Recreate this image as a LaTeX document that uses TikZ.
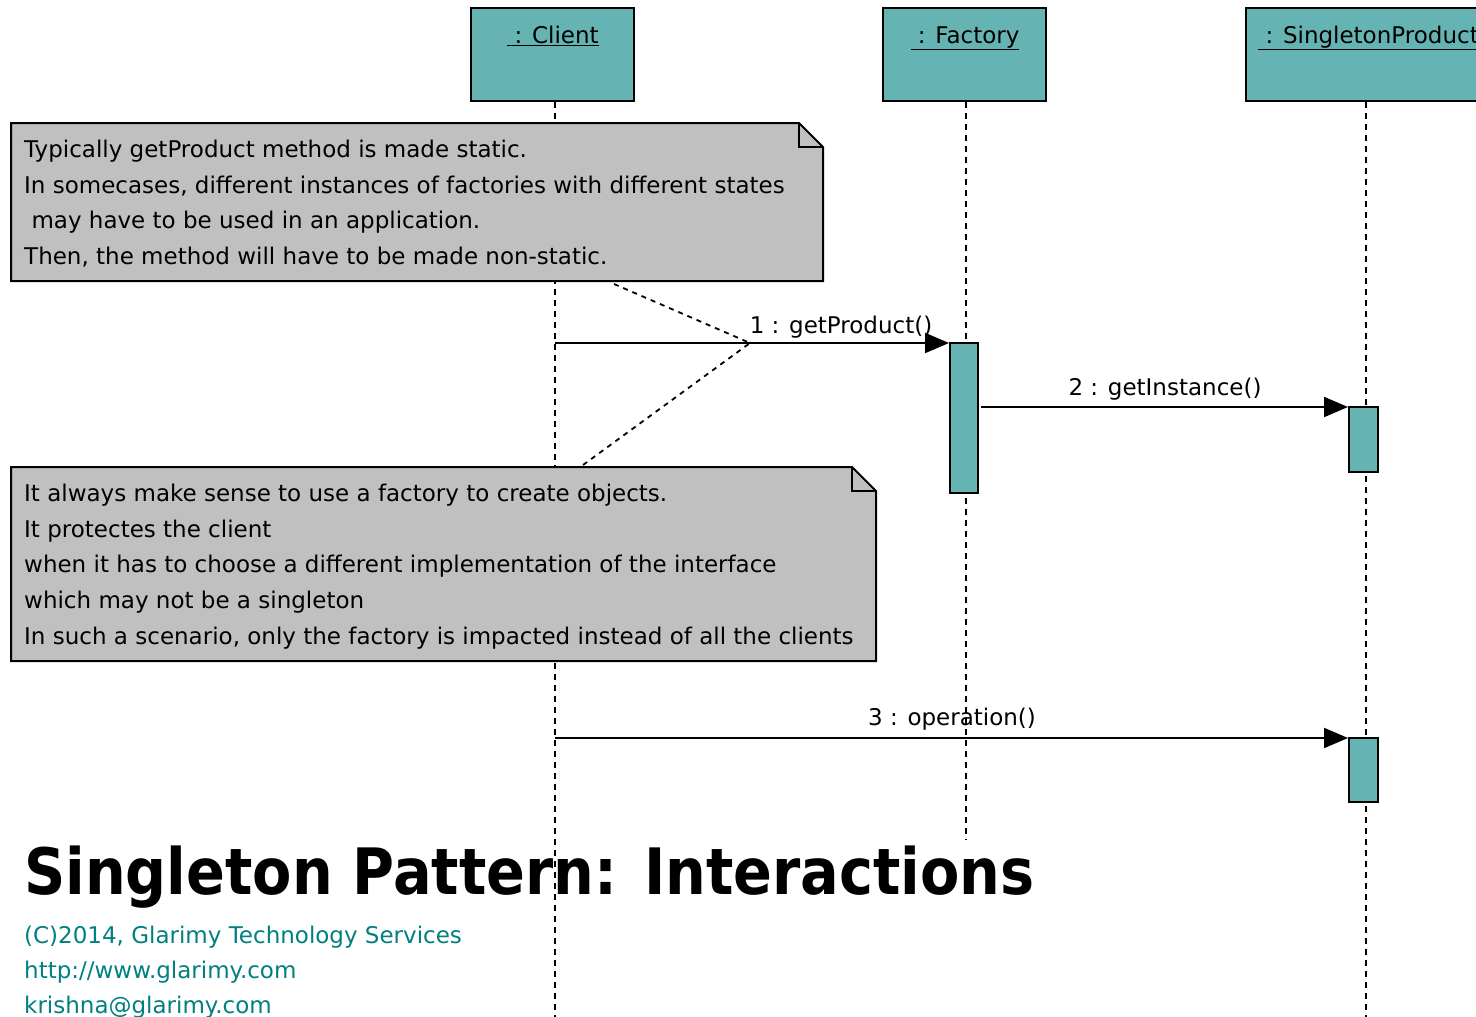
\documentclass[tikz,border=0pt]{standalone}
\usepackage{fontspec}
\setmainfont{DejaVu Sans}
\newfontfamily\titlefont[FakeStretch=0.895]{DejaVu Sans Bold}
\usetikzlibrary{arrows.meta}
\definecolor{headteal}{HTML}{66B3B3}
\definecolor{notegray}{HTML}{C0C0C0}
\definecolor{linkteal}{HTML}{008080}
\begin{document}
\begin{tikzpicture}[x=1pt,y=-1pt,
  txt/.style={font=\fontsize{23}{35.6}\selectfont, inner sep=0pt, align=left},
  headbox/.style={draw=black, line width=2.2pt, fill=headteal},
  actbox/.style={draw=black, line width=2pt, fill=headteal},
  lifeline/.style={line width=1.8pt, dash pattern=on 6pt off 5pt},
  notelink/.style={line width=1.8pt, dash pattern=on 5pt off 5pt},
  msg/.style={line width=2pt, -{Triangle[length=24pt,width=20pt]}},
  notebox/.style={draw=black, line width=2pt, fill=notegray, line join=miter},
  msglabel/.style={txt, anchor=base},
  foot/.style={txt, anchor=base west, text=linkteal}]
\useasboundingbox (0,0) rectangle (1476,1017);
\clip (0,0) rectangle (1476,1017);
\fill[white] (0,0) rectangle (1476,1017);

% title and labels (under lifelines)
\node[inner sep=0pt, anchor=base west, font=\titlefont\fontsize{64}{64}\selectfont] (title) at (24,894) {Singleton Pattern: Interactions};
\node[foot] (copy) at (24,943) {(C)2014, Glarimy Technology Services};
\node[foot] (url) at (24,978) {http://www.glarimy.com};
\node[foot] (mail) at (24,1013) {krishna@glarimy.com};

\node[msglabel] (l1) at (841,333) {1 : getProduct()};
\node[msglabel] (l2) at (1165,395) {2 : getInstance()};
\node[msglabel] (l3) at (952,725) {3 : operation()};

% heads
\node[headbox, minimum width=163pt, minimum height=93pt, inner sep=0pt] (client) at (552.5,54.5) {};
\node[headbox, minimum width=163pt, minimum height=93pt, inner sep=0pt] (factory) at (964.5,54.5) {};
\node[headbox, minimum width=280pt, minimum height=93pt, inner sep=0pt] (single) at (1386,54.5) {};
\node[txt, anchor=base] (clientlbl) at (553,43) {\underline{\ : Client}};
\node[txt, anchor=base] (factorylbl) at (965,43) {\underline{\ : Factory}};
\node[txt, anchor=base west] (singlelbl) at (1258,43) {\underline{\ : SingletonProduct}};

% lifeline ends
\coordinate (ctop) at (555,102);
\coordinate (cbot) at (555,1017);
\coordinate (ftop) at (966,102);
\coordinate (fbot) at (966,840);
\coordinate (stop) at (1366,102);
\coordinate (sbot) at (1366,1017);
\draw[lifeline] (ctop) -- (cbot);
\draw[lifeline] (ftop) -- (fbot);
\draw[lifeline] (stop) -- (sbot);

% activations
\node[actbox, minimum width=28pt, minimum height=150pt, inner sep=0pt] (act1) at (964,418) {};
\node[actbox, minimum width=29pt, minimum height=65pt, inner sep=0pt] (act2) at (1363.5,439.5) {};
\node[actbox, minimum width=29pt, minimum height=64pt, inner sep=0pt] (act3) at (1363.5,770) {};

% messages
\coordinate (m1s) at (555,343);
\coordinate (m2s) at (981,407);
\coordinate (m3s) at (555,738);
\draw[msg] (m1s) -- (m1s -| act1.west);
\draw[msg] (m2s) -- (m2s -| act2.west);
\draw[msg] (m3s) -- (m3s -| act3.west);

% notes
\draw[notebox] (11,123) -- (799,123) -- (823,147) -- (823,281) -- (11,281) -- cycle;
\draw[line width=2pt] (799,123) -- (799,147) -- (823,147);
\node[txt, anchor=north west] (note1) at (24,140) {Typically getProduct method is made static.\\In somecases, different instances of factories with different states\\\ may have to be used in an application.\\Then, the method will have to be made non-static.};

\draw[notebox] (11,467) -- (852,467) -- (876,491) -- (876,661) -- (11,661) -- cycle;
\draw[line width=2pt] (852,467) -- (852,491) -- (876,491);
\node[txt, anchor=north west] (note2) at (24,484) {It always make sense to use a factory to create objects.\\It protectes the client\\when it has to choose a different implementation of the interface\\which may not be a singleton\\In such a scenario, only the factory is impacted instead of all the clients};

% note links
\coordinate (n1p) at (614,284);
\coordinate (n2p) at (583,465);
\coordinate (m1p) at (750,343);
\draw[notelink] (n1p) -- (m1p) -- (n2p);
\end{tikzpicture}
\end{document}
